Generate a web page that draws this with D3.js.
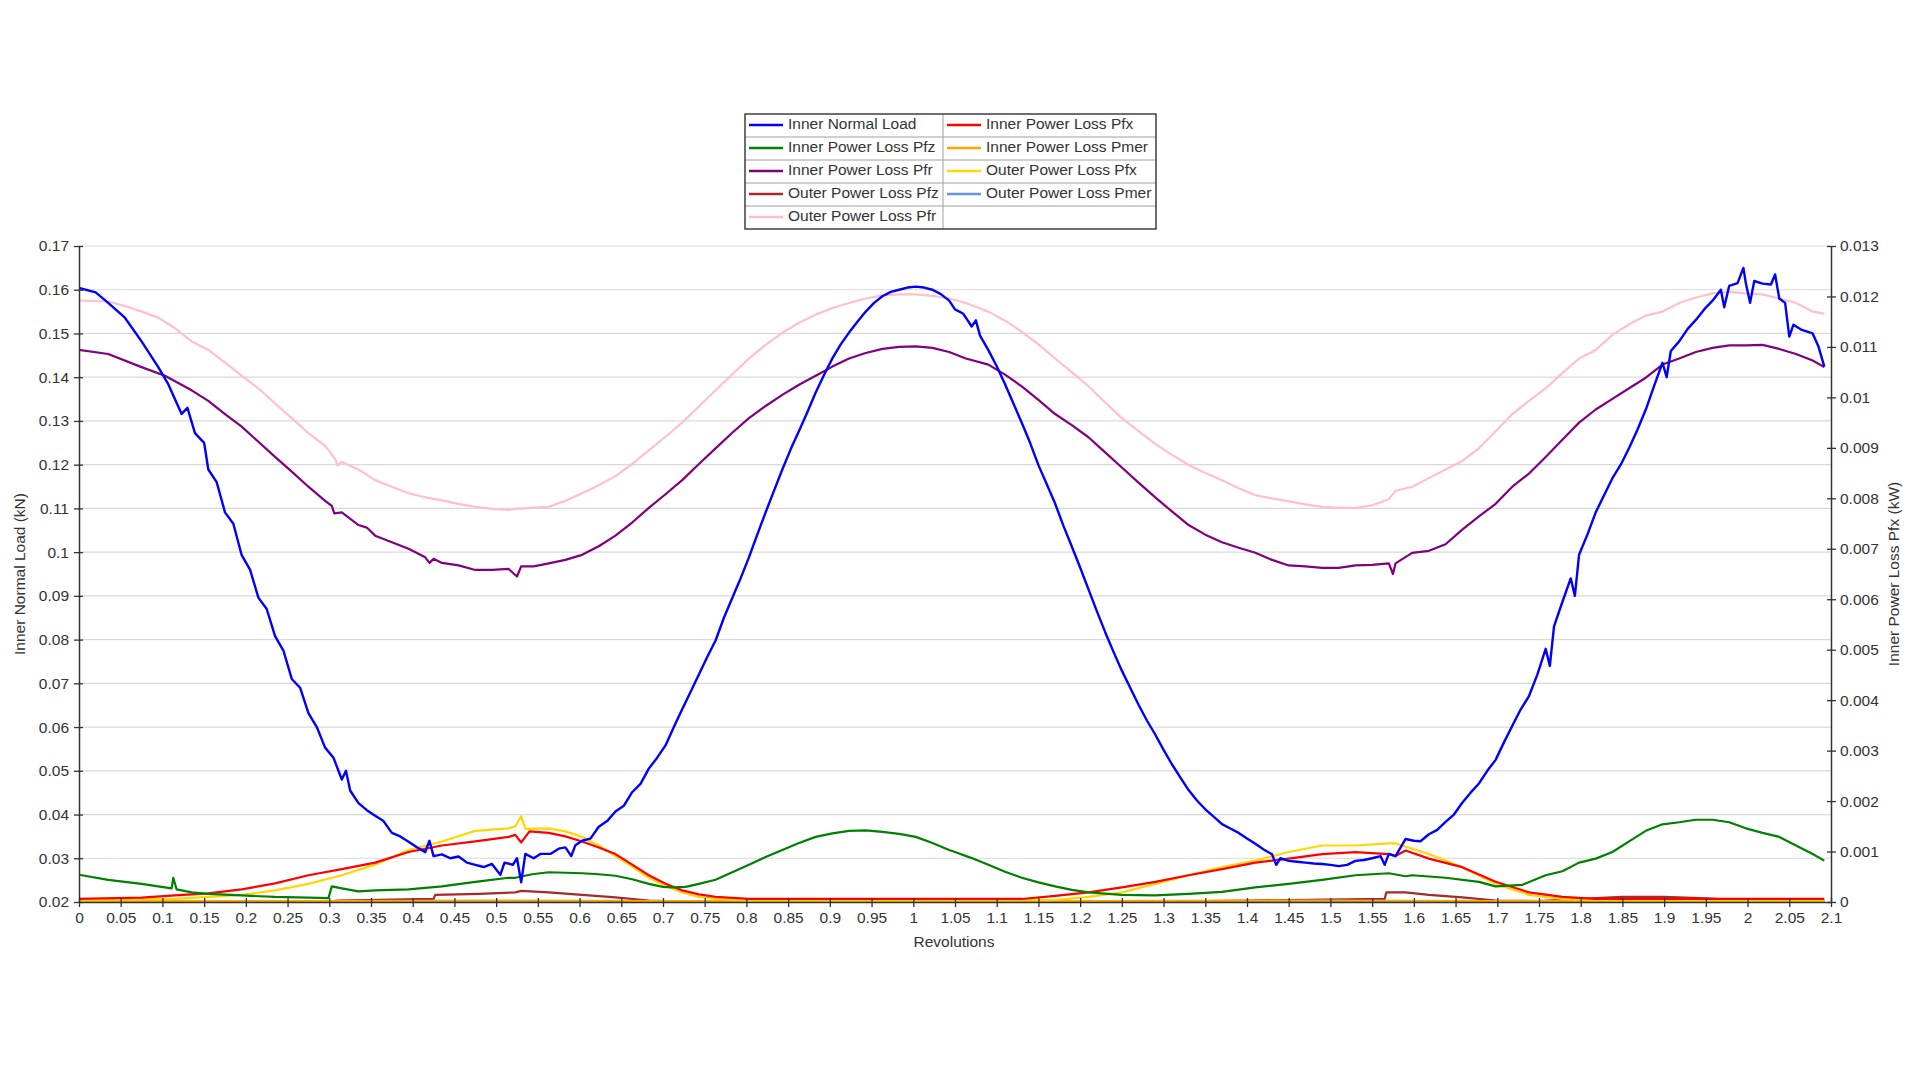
<!DOCTYPE html>
<html><head><meta charset="utf-8">
<script src="https://cdn.jsdelivr.net/npm/d3@7"></script>
<style>
html,body{margin:0;padding:0;background:#fff;}
svg{display:block;font-family:"Liberation Sans",Arial,sans-serif;}
</style></head>
<body><svg id="c" width="1920" height="1080"></svg>
<script>
// ---- Data (revolutions, value) ----
const innerNormalLoad = [[0,0.1604],[0.02,0.1594],[0.035,0.157],[0.055,0.1536],[0.075,0.1482],[0.095,0.1423],[0.107,0.1384],[0.123,0.1316],[0.13,0.1330],[0.139,0.1272],[0.15,0.1250],[0.155,0.1189],[0.165,0.1160],[0.175,0.1091],[0.185,0.1065],[0.195,0.0993],[0.205,0.0960],[0.215,0.0896],[0.225,0.0870],[0.235,0.0808],[0.245,0.0775],[0.255,0.071],[0.265,0.0690],[0.275,0.0632],[0.285,0.0600],[0.295,0.0553],[0.305,0.0530],[0.315,0.048],[0.32,0.0500],[0.325,0.0455],[0.335,0.0426],[0.345,0.0410],[0.355,0.0397],[0.365,0.0385],[0.375,0.0358],[0.385,0.0350],[0.395,0.0338],[0.405,0.0325],[0.415,0.0314],[0.42,0.0340],[0.425,0.0305],[0.435,0.0309],[0.445,0.0300],[0.455,0.0304],[0.465,0.0290],[0.475,0.0285],[0.485,0.0280],[0.495,0.0287],[0.505,0.0262],[0.51,0.0290],[0.52,0.0285],[0.525,0.0300],[0.53,0.0245],[0.535,0.0310],[0.545,0.0300],[0.553,0.031],[0.565,0.0310],[0.575,0.0322],[0.583,0.0325],[0.59,0.0305],[0.595,0.0330],[0.603,0.034],[0.613,0.0345],[0.623,0.0372],[0.633,0.0385],[0.643,0.0407],[0.653,0.0420],[0.663,0.0451],[0.673,0.0470],[0.683,0.0505],[0.693,0.0530],[0.703,0.0558],[0.713,0.0600],[0.723,0.0641],[0.733,0.0680],[0.743,0.072],[0.753,0.0760],[0.763,0.0798],[0.773,0.0850],[0.783,0.0895],[0.793,0.0940],[0.803,0.0988],[0.813,0.1040],[0.823,0.1091],[0.833,0.1140],[0.843,0.1189],[0.853,0.1235],[0.863,0.1277],[0.873,0.1320],[0.883,0.1365],[0.893,0.1405],[0.903,0.1443],[0.913,0.1475],[0.923,0.1502],[0.933,0.1527],[0.943,0.155],[0.953,0.1570],[0.963,0.1585],[0.973,0.1595],[0.983,0.160],[0.993,0.1605],[1.003,0.1607],[1.013,0.1605],[1.023,0.160],[1.033,0.1590],[1.043,0.1575],[1.05,0.1555],[1.06,0.1545],[1.07,0.1516],[1.075,0.1530],[1.08,0.1495],[1.09,0.1462],[1.1,0.1425],[1.11,0.1384],[1.12,0.1340],[1.13,0.1296],[1.14,0.1250],[1.15,0.1199],[1.16,0.1155],[1.17,0.1111],[1.18,0.1060],[1.19,0.1013],[1.2,0.0965],[1.21,0.0915],[1.22,0.0865],[1.23,0.0817],[1.24,0.0772],[1.25,0.0729],[1.26,0.0690],[1.27,0.0651],[1.28,0.0615],[1.29,0.0583],[1.3,0.0548],[1.31,0.0515],[1.32,0.0485],[1.33,0.0456],[1.34,0.0432],[1.35,0.0412],[1.36,0.0395],[1.37,0.0378],[1.38,0.0368],[1.39,0.0358],[1.4,0.0345],[1.41,0.0333],[1.42,0.0320],[1.43,0.0309],[1.435,0.0285],[1.44,0.0300],[1.45,0.0294],[1.46,0.0292],[1.47,0.029],[1.48,0.0288],[1.49,0.0287],[1.5,0.0285],[1.51,0.0282],[1.52,0.0285],[1.53,0.0294],[1.54,0.0296],[1.55,0.030],[1.56,0.0305],[1.565,0.0285],[1.57,0.031],[1.578,0.0305],[1.59,0.0344],[1.6,0.0340],[1.608,0.0339],[1.618,0.0355],[1.628,0.0365],[1.638,0.0383],[1.648,0.0400],[1.658,0.0427],[1.668,0.0450],[1.678,0.0471],[1.688,0.0500],[1.698,0.0525],[1.708,0.0565],[1.718,0.0603],[1.728,0.0640],[1.738,0.0671],[1.748,0.0720],[1.758,0.0779],[1.763,0.0740],[1.768,0.0830],[1.778,0.0886],[1.788,0.0940],[1.793,0.0900],[1.798,0.0994],[1.808,0.1040],[1.818,0.1091],[1.828,0.1130],[1.838,0.1169],[1.848,0.1200],[1.858,0.1238],[1.868,0.1280],[1.878,0.1326],[1.888,0.1380],[1.898,0.1433],[1.903,0.1400],[1.908,0.1460],[1.918,0.1482],[1.928,0.1510],[1.938,0.1531],[1.948,0.1555],[1.958,0.1575],[1.968,0.1600],[1.972,0.1560],[1.978,0.1609],[1.988,0.1615],[1.995,0.1650],[1.998,0.1614],[2.003,0.1570],[2.008,0.1620],[2.018,0.1614],[2.028,0.1612],[2.033,0.1635],[2.038,0.1580],[2.045,0.1570],[2.05,0.1493],[2.055,0.1520],[2.065,0.1508],[2.078,0.1500],[2.085,0.1470],[2.092,0.1424]];

const innerPfx = [[0,0.00006],[0.075,0.000085],[0.115,0.00013],[0.155,0.00017],[0.195,0.00025],[0.235,0.00037],[0.275,0.00053],[0.315,0.00065],[0.355,0.00078],[0.395,0.00099],[0.435,0.00112],[0.475,0.0012],[0.515,0.00129],[0.523,0.00133],[0.53,0.00118],[0.54,0.0014],[0.563,0.00137],[0.583,0.0013],[0.603,0.0012],[0.623,0.00108],[0.643,0.00095],[0.663,0.00074],[0.683,0.00053],[0.703,0.00036],[0.723,0.00023],[0.743,0.00015],[0.763,0.0001],[0.803,0.00006],[1.13,0.00006],[1.17,0.00012],[1.21,0.00019],[1.25,0.00029],[1.29,0.0004],[1.33,0.00053],[1.37,0.00065],[1.41,0.00078],[1.45,0.00086],[1.49,0.00095],[1.53,0.00099],[1.57,0.00095],[1.578,0.00091],[1.59,0.00102],[1.618,0.00086],[1.658,0.00069],[1.698,0.0004],[1.738,0.00019],[1.778,0.0001],[1.818,0.00006],[2.092,0.00006]];

const innerPfz = [[0,0.00054],[0.035,0.00044],[0.075,0.00036],[0.111,0.00027],[0.113,0.00048],[0.117,0.00025],[0.135,0.00019],[0.155,0.00016],[0.195,0.00013],[0.235,0.0001],[0.275,0.000085],[0.299,0.000076],[0.303,0.00031],[0.315,0.00027],[0.335,0.00021],[0.355,0.00023],[0.395,0.00025],[0.435,0.00031],[0.475,0.0004],[0.515,0.00048],[0.523,0.00048],[0.543,0.00055],[0.563,0.00059],[0.583,0.00058],[0.603,0.00057],[0.623,0.00055],[0.643,0.00052],[0.663,0.00045],[0.683,0.00036],[0.7,0.0003],[0.711,0.00029],[0.727,0.0003],[0.743,0.00036],[0.763,0.00044],[0.783,0.00059],[0.803,0.00074],[0.823,0.00089],[0.843,0.00103],[0.863,0.00117],[0.883,0.00129],[0.903,0.00136],[0.923,0.00141],[0.943,0.00142],[0.963,0.00139],[0.983,0.00135],[1.003,0.00129],[1.023,0.00117],[1.043,0.00103],[1.05,0.00099],[1.07,0.00087],[1.09,0.00074],[1.11,0.0006],[1.13,0.00048],[1.15,0.00039],[1.17,0.00031],[1.19,0.00024],[1.21,0.00019],[1.25,0.00014],[1.29,0.00013],[1.33,0.00016],[1.37,0.0002],[1.41,0.00029],[1.45,0.00036],[1.49,0.00044],[1.53,0.00053],[1.57,0.00057],[1.59,0.00051],[1.598,0.00053],[1.638,0.00048],[1.678,0.0004],[1.698,0.00031],[1.73,0.00034],[1.758,0.00053],[1.778,0.00061],[1.798,0.00078],[1.818,0.00086],[1.838,0.00099],[1.858,0.0012],[1.878,0.00141],[1.898,0.00154],[1.918,0.00158],[1.938,0.00163],[1.958,0.00163],[1.978,0.00158],[1.998,0.00146],[2.018,0.00137],[2.038,0.00129],[2.058,0.00112],[2.078,0.00095],[2.092,0.00082]];

const innerPmer = [[0,0.00002],[0.3,0.00002],[0.5,0.00003],[0.7,0.00002],[1.2,0.00002],[1.5,0.00003],[1.7,0.00002],[2.092,0.00002]];

const innerPfr = [[0,0.01094],[0.035,0.01086],[0.075,0.0106],[0.103,0.01043],[0.135,0.01014],[0.155,0.00993],[0.175,0.00967],[0.195,0.00942],[0.215,0.00912],[0.235,0.00882],[0.255,0.00853],[0.275,0.00823],[0.295,0.00795],[0.303,0.00785],[0.306,0.0077],[0.315,0.00772],[0.335,0.00747],[0.345,0.00742],[0.355,0.00726],[0.375,0.00713],[0.395,0.007],[0.415,0.00683],[0.42,0.00672],[0.425,0.0068],[0.435,0.00672],[0.455,0.00667],[0.475,0.00658],[0.495,0.00658],[0.515,0.0066],[0.525,0.00645],[0.53,0.00665],[0.545,0.00665],[0.563,0.00671],[0.583,0.00678],[0.603,0.00688],[0.623,0.00705],[0.643,0.00726],[0.663,0.00752],[0.683,0.00781],[0.703,0.00808],[0.723,0.00836],[0.743,0.00868],[0.763,0.00899],[0.783,0.0093],[0.803,0.00959],[0.823,0.00983],[0.843,0.01005],[0.863,0.01025],[0.883,0.01043],[0.903,0.01061],[0.923,0.01077],[0.943,0.01088],[0.963,0.01096],[0.983,0.011],[1.003,0.01101],[1.023,0.01098],[1.043,0.0109],[1.063,0.01077],[1.09,0.01065],[1.11,0.01045],[1.13,0.01022],[1.15,0.00995],[1.17,0.00967],[1.19,0.00945],[1.21,0.00921],[1.23,0.00891],[1.25,0.00861],[1.27,0.00831],[1.29,0.00802],[1.31,0.00774],[1.33,0.00747],[1.35,0.00728],[1.37,0.00713],[1.39,0.00702],[1.41,0.00692],[1.43,0.00678],[1.45,0.00667],[1.47,0.00665],[1.49,0.00662],[1.51,0.00662],[1.53,0.00667],[1.55,0.00668],[1.57,0.00671],[1.575,0.0065],[1.578,0.00671],[1.598,0.00692],[1.618,0.00696],[1.638,0.00709],[1.658,0.00738],[1.678,0.00764],[1.698,0.00789],[1.718,0.00823],[1.738,0.00849],[1.758,0.00882],[1.778,0.00916],[1.798,0.0095],[1.818,0.00976],[1.838,0.00997],[1.858,0.01018],[1.878,0.01039],[1.898,0.01065],[1.918,0.01077],[1.938,0.0109],[1.958,0.01098],[1.978,0.01103],[1.998,0.01103],[2.018,0.01104],[2.038,0.01096],[2.058,0.01086],[2.078,0.01073],[2.092,0.0106]];

const outerPfx = [[0,0.00003],[0.115,0.00006],[0.155,0.0001],[0.195,0.00014],[0.235,0.00023],[0.275,0.00036],[0.315,0.00053],[0.355,0.00074],[0.395,0.00103],[0.435,0.0012],[0.475,0.00141],[0.515,0.00146],[0.523,0.0015],[0.53,0.0017],[0.535,0.00145],[0.563,0.00146],[0.583,0.0014],[0.603,0.00129],[0.623,0.00112],[0.643,0.00091],[0.663,0.0007],[0.683,0.00048],[0.703,0.00032],[0.723,0.00019],[0.743,0.0001],[0.763,0.00006],[0.8,0.00003],[1.17,0.00004],[1.21,0.0001],[1.25,0.00019],[1.29,0.00036],[1.33,0.00053],[1.37,0.00069],[1.41,0.00082],[1.45,0.00099],[1.49,0.00112],[1.53,0.00112],[1.57,0.00116],[1.578,0.00116],[1.618,0.00095],[1.658,0.00069],[1.698,0.00036],[1.738,0.00014],[1.778,0.00006],[1.82,0.00003],[2.092,0.00003]];

const outerPfz = [[0,0.00001],[0.3,0.00001],[0.31,0.00003],[0.425,0.00006],[0.427,0.00014],[0.48,0.00016],[0.523,0.00019],[0.53,0.00022],[0.563,0.00019],[0.603,0.00014],[0.643,0.00009],[0.683,0.00003],[0.72,0.00001],[1.3,0.00001],[1.4,0.00003],[1.565,0.00006],[1.567,0.00019],[1.59,0.00019],[1.618,0.00014],[1.658,0.00009],[1.698,0.00003],[1.75,0.00002],[1.8,0.00006],[1.85,0.0001],[1.9,0.0001],[1.95,0.00007],[2.0,0.00003],[2.092,0.00003]];

const outerPmer = [[0,0.00001],[1.0,0.00001],[2.092,0.00001]];

const outerPfr = [[0,0.01192],[0.035,0.0119],[0.055,0.01181],[0.075,0.0117],[0.095,0.01158],[0.115,0.01137],[0.135,0.01111],[0.155,0.01094],[0.175,0.01069],[0.195,0.01043],[0.215,0.01018],[0.235,0.00988],[0.255,0.00959],[0.275,0.00929],[0.295,0.00904],[0.307,0.00878],[0.31,0.00865],[0.315,0.00872],[0.335,0.00857],[0.355,0.00836],[0.375,0.00823],[0.395,0.0081],[0.415,0.00802],[0.435,0.00796],[0.455,0.00789],[0.475,0.00783],[0.495,0.00779],[0.515,0.00777],[0.523,0.00779],[0.543,0.00781],[0.563,0.00783],[0.583,0.00795],[0.603,0.0081],[0.623,0.00826],[0.643,0.00844],[0.663,0.00868],[0.683,0.00895],[0.703,0.00922],[0.723,0.0095],[0.743,0.00982],[0.763,0.01014],[0.783,0.01046],[0.803,0.01077],[0.823,0.01104],[0.843,0.01128],[0.863,0.01148],[0.883,0.01164],[0.903,0.01177],[0.923,0.01187],[0.943,0.01196],[0.963,0.01202],[0.983,0.01204],[1.003,0.01204],[1.023,0.01201],[1.043,0.01196],[1.063,0.01187],[1.09,0.0117],[1.11,0.01152],[1.13,0.0113],[1.15,0.01105],[1.17,0.01077],[1.19,0.0105],[1.21,0.01022],[1.23,0.0099],[1.25,0.00959],[1.27,0.00933],[1.29,0.00908],[1.31,0.00886],[1.33,0.00866],[1.35,0.0085],[1.37,0.00836],[1.39,0.0082],[1.41,0.00806],[1.43,0.008],[1.45,0.00794],[1.47,0.00788],[1.49,0.00783],[1.51,0.00781],[1.53,0.00781],[1.55,0.00786],[1.57,0.00798],[1.578,0.00815],[1.598,0.00823],[1.618,0.0084],[1.638,0.00857],[1.658,0.00874],[1.678,0.00899],[1.698,0.00933],[1.718,0.00967],[1.738,0.00993],[1.758,0.01018],[1.778,0.01048],[1.798,0.01077],[1.818,0.01094],[1.838,0.01124],[1.858,0.01145],[1.878,0.01162],[1.898,0.0117],[1.918,0.01187],[1.938,0.01198],[1.958,0.01206],[1.978,0.01209],[1.998,0.01206],[2.018,0.01204],[2.038,0.01196],[2.058,0.01187],[2.078,0.0117],[2.092,0.01166]];

const xTicks = d3.range(0, 43).map(i => i * 0.05);
const leftTicks = d3.range(2, 18).map(i => i / 100);
const rightTicks = d3.range(0, 14).map(i => i / 1000);

const seriesNames = ["Inner Normal Load","Inner Power Loss Pfx","Inner Power Loss Pfz","Inner Power Loss Pmer","Inner Power Loss Pfr","Outer Power Loss Pfx","Outer Power Loss Pfz","Outer Power Loss Pmer","Outer Power Loss Pfr"];
const seriesColors = ["#0000ff","#ff0000","#008000","#ffa500","#800080","#ffd700","#a52a2a","#6495ed","#ffc0cb"];
const seriesAxis = ["left","right","right","right","right","right","right","right","right"];
const seriesData = [innerNormalLoad, innerPfx, innerPfz, innerPmer, innerPfr, outerPfx, outerPfz, outerPmer, outerPfr];
const legendCol1 = [0, 2, 4, 6, 8];
const legendCol2 = [1, 3, 5, 7];
const drawOrder = [8, 4, 7, 6, 3, 5, 1, 2, 0];

// ---- Scales ----
const svg = d3.select("#c");
const L = 79, R = 1831, T = 246, B = 902;
const x = d3.scaleLinear().domain([0, 2.1]).range([L, R]);
const yL = d3.scaleLinear().domain([0.02, 0.17]).range([B, T]);
const yR = d3.scaleLinear().domain([0, 0.013]).range([B, T]);
const fmt = v => String(+v.toFixed(3));
const textCol = "#333";
const axisCol = "#333";

// gridlines
svg.append("g").selectAll("line").data(leftTicks.slice(1)).join("line")
  .attr("x1", L).attr("x2", R).attr("y1", d => yL(d)).attr("y2", d => yL(d))
  .attr("stroke", "#d9d9d9").attr("stroke-width", 1.2);

// series
const clip = svg.append("clipPath").attr("id", "clp").append("rect")
  .attr("x", L).attr("y", T - 10).attr("width", R - L).attr("height", B - T + 10);
const plot = svg.append("g").attr("clip-path", "url(#clp)");
drawOrder.forEach(i => {
  const ys = seriesAxis[i] === "left" ? yL : yR;
  const line = d3.line().x(d => x(d[0])).y(d => ys(d[1]));
  plot.append("path").datum(seriesData[i]).attr("d", line)
    .attr("fill", "none").attr("stroke", seriesColors[i])
    .attr("stroke-width", i === 0 ? 2.4 : 2.2).attr("stroke-linejoin", "round");
});

// axes
function styleAxis(g, cross, dir) {
  g.select(".domain").attr("stroke", axisCol).attr("stroke-width", 1.5);
  g.selectAll(".tick line").attr("stroke", axisCol).attr("stroke-width", 1.3);
  g.selectAll(".tick text").attr("fill", textCol).style("font-size", "15.5px")
    .style("font-family", '"Liberation Sans", Arial, sans-serif');
}
const gx = svg.append("g").attr("transform", `translate(0,${B})`)
  .call(d3.axisBottom(x).tickValues(xTicks).tickFormat(fmt).tickSizeInner(5).tickSizeOuter(0).tickPadding(5));
gx.selectAll(".tick line").attr("y1", -4);
styleAxis(gx);

const gl = svg.append("g").attr("transform", `translate(${L},0)`)
  .call(d3.axisLeft(yL).tickValues(leftTicks).tickFormat(fmt).tickSizeInner(5).tickSizeOuter(0).tickPadding(5));
gl.selectAll(".tick line").attr("x1", 4);
styleAxis(gl);

const gr = svg.append("g").attr("transform", `translate(${R},0)`)
  .call(d3.axisRight(yR).tickValues(rightTicks).tickFormat(fmt).tickSizeInner(5).tickSizeOuter(0).tickPadding(4));
gr.selectAll(".tick line").attr("x1", -4);
styleAxis(gr);

// axis titles
svg.append("text").attr("x", (L + R) / 2 - 1).attr("y", 943).attr("text-anchor", "middle")
  .attr("dominant-baseline", "middle").attr("fill", textCol).style("font-size", "15.5px").text("Revolutions");
svg.append("text").attr("transform", `translate(21,${(T + B) / 2}) rotate(-90)`).attr("text-anchor", "middle")
  .attr("dominant-baseline", "middle").attr("fill", textCol).style("font-size", "15.5px").text("Inner Normal Load (kN)");
svg.append("text").attr("transform", `translate(1895,${(T + B) / 2}) rotate(-90)`).attr("text-anchor", "middle")
  .attr("dominant-baseline", "middle").attr("fill", textCol).style("font-size", "15.5px").text("Inner Power Loss Pfx (kW)");

// legend
const lgX0 = 745, lgX1 = 1156, lgY0 = 114, lgY1 = 229, lgMid = 943, rowH = (lgY1 - lgY0) / 5;
const lg = svg.append("g");
for (let r = 1; r < 5; r++) {
  lg.append("line").attr("x1", lgX0).attr("x2", lgX1).attr("y1", lgY0 + r * rowH).attr("y2", lgY0 + r * rowH)
    .attr("stroke", "#a0a0a0").attr("stroke-width", 1);
}
lg.append("line").attr("x1", lgMid).attr("x2", lgMid).attr("y1", lgY0).attr("y2", lgY1).attr("stroke", "#a0a0a0");
lg.append("rect").attr("x", lgX0).attr("y", lgY0).attr("width", lgX1 - lgX0).attr("height", lgY1 - lgY0)
  .attr("fill", "none").attr("stroke", "#222").attr("stroke-width", 1.3);
function legendCol(items, sx, tx) {
  items.forEach((i, r) => {
    const cy = lgY0 + r * rowH + rowH / 2 - 0.5;
    lg.append("line").attr("x1", sx).attr("x2", sx + 34).attr("y1", cy).attr("y2", cy)
      .attr("stroke", seriesColors[i]).attr("stroke-width", 2.3);
    lg.append("text").attr("x", tx).attr("y", cy).attr("dominant-baseline", "middle")
      .attr("fill", textCol).style("font-size", "15.5px").text(seriesNames[i]);
  });
}
legendCol(legendCol1, 749, 788);
legendCol(legendCol2, 947, 986);
</script></body></html>
